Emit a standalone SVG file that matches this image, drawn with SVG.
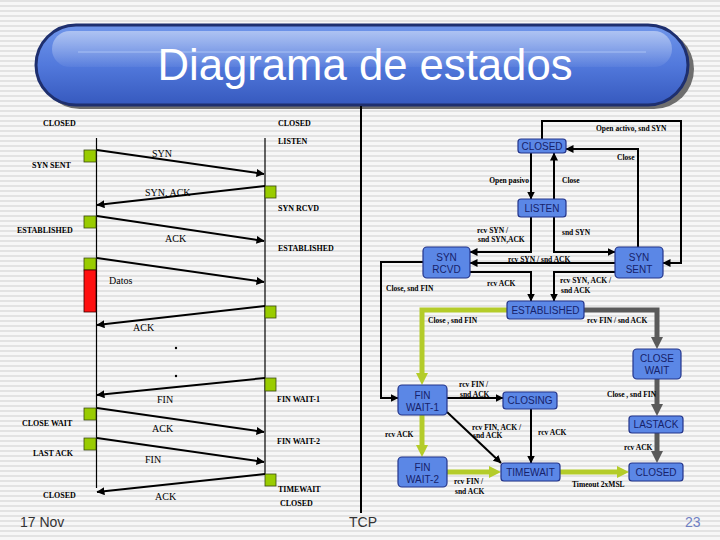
<svg xmlns="http://www.w3.org/2000/svg" width="720" height="540" viewBox="0 0 720 540">
<defs>
<pattern id="st" width="10" height="5" patternUnits="userSpaceOnUse"><rect width="10" height="5" fill="#f7f7f7"/><rect width="10" height="2" fill="#e3e3e3"/></pattern>
<linearGradient id="pill" x1="0" y1="0" x2="0" y2="1"><stop offset="0" stop-color="#7096ea"/><stop offset="0.5" stop-color="#5279dc"/><stop offset="1" stop-color="#3659be"/></linearGradient>
<linearGradient id="hl" x1="0" y1="0" x2="0" y2="1"><stop offset="0" stop-color="#ffffff" stop-opacity="0.45"/><stop offset="1" stop-color="#ffffff" stop-opacity="0.05"/></linearGradient>
<marker id="mb" viewBox="0 0 8 8" refX="7.5" refY="4" markerWidth="8" markerHeight="8" markerUnits="userSpaceOnUse" orient="auto"><path d="M0,0 L8,4 L0,8 z" fill="#000"/></marker>
<marker id="mg" viewBox="0 0 12 12" refX="2" refY="6" markerWidth="12" markerHeight="12" markerUnits="userSpaceOnUse" orient="auto"><path d="M0,0 L12,6 L0,12 z" fill="#b4cc2a"/></marker>
<marker id="mgr" viewBox="0 0 12 12" refX="2" refY="6" markerWidth="12" markerHeight="12" markerUnits="userSpaceOnUse" orient="auto"><path d="M0,0 L12,6 L0,12 z" fill="#5a5a5a"/></marker>
<style>
.box{fill:#5b87e6;stroke:#23348a;stroke-width:1.2}
.bt{font-family:"Liberation Sans",Arial,sans-serif;font-size:10px;fill:#16226a;text-anchor:middle}
.lb{font-family:"Liberation Serif","Times New Roman",serif;font-size:7.5px;font-weight:bold;fill:#000}
.sl{font-family:"Liberation Serif","Times New Roman",serif;font-size:8px;font-weight:bold;fill:#000}
.ml{font-family:"Liberation Serif","Times New Roman",serif;font-size:10px;fill:#000}
.cb{fill:none;stroke:#000;stroke-width:2;marker-end:url(#mb)}
.cg{fill:none;stroke:#b4cc2a;stroke-width:5;marker-end:url(#mg)}
.cgr{fill:none;stroke:#5a5a5a;stroke-width:5;marker-end:url(#mgr)}
.sq{fill:#99cc00;stroke:#3b4a10;stroke-width:0.8}
.tl{stroke:#000;stroke-width:1.2}
.ft{font-family:"Liberation Sans",Arial,sans-serif;font-size:14px;fill:#333}
.pg{fill:#6f80c4}
</style>
</defs>
<rect width="720" height="540" fill="url(#st)"/>

<g id="title">
<rect x="40" y="29" width="654" height="80" rx="40" fill="#6e6e6e"/>
<rect x="36" y="25" width="652" height="80" rx="40" fill="url(#pill)" stroke="#1e2f6e" stroke-width="3"/>
<rect x="52" y="31" width="620" height="36" rx="18" fill="url(#hl)"/>
<line x1="78" y1="52" x2="646" y2="52" stroke="#a9c1f4" stroke-width="1"/>
<text x="365" y="80" font-family="'Liberation Sans',Arial,sans-serif" font-size="45" fill="#fff" text-anchor="middle" textLength="415" lengthAdjust="spacingAndGlyphs">Diagrama de estados</text>
</g>

<line x1="361" y1="106" x2="361" y2="513" stroke="#000" stroke-width="2"/>

<g id="sequence">
<line class="tl" x1="96.5" y1="138" x2="96.5" y2="488"/>
<line class="tl" x1="265" y1="138" x2="265" y2="474"/>
<rect class="sq" x="84" y="150" width="12" height="12"/>
<rect class="sq" x="265" y="186" width="11" height="12"/>
<rect class="sq" x="84" y="216" width="12" height="12"/>
<rect class="sq" x="84" y="258" width="12" height="12"/>
<rect x="84" y="270" width="12" height="42" fill="#ff1010" stroke="#3a0000" stroke-width="0.8"/>
<rect class="sq" x="265" y="306" width="11" height="12"/>
<rect class="sq" x="265" y="378" width="11" height="13"/>
<rect class="sq" x="84" y="408" width="12" height="12"/>
<rect class="sq" x="84" y="438" width="12" height="12"/>
<rect class="sq" x="265" y="474" width="11" height="12"/>
<line class="cb" x1="97" y1="150" x2="264" y2="174"/>
<line class="cb" x1="265" y1="186" x2="97" y2="205"/>
<line class="cb" x1="97" y1="216" x2="264" y2="241"/>
<line class="cb" x1="97" y1="258" x2="264" y2="282"/>
<line class="cb" x1="265" y1="306" x2="97" y2="325"/>
<line class="cb" x1="265" y1="378" x2="97" y2="395"/>
<line class="cb" x1="97" y1="408" x2="264" y2="432"/>
<line class="cb" x1="97" y1="438" x2="264" y2="462"/>
<line class="cb" x1="265" y1="474" x2="97" y2="492"/>
<circle cx="176" cy="348" r="1.2" fill="#000"/>
<circle cx="176" cy="376" r="1.2" fill="#000"/>
<text class="sl" x="43" y="126">CLOSED</text>
<text class="sl" x="278" y="126">CLOSED</text>
<text class="sl" x="278" y="144">LISTEN</text>
<text class="sl" x="32" y="168">SYN SENT</text>
<text class="sl" x="278" y="211">SYN RCVD</text>
<text class="sl" x="17" y="233">ESTABLISHED</text>
<text class="sl" x="278" y="251">ESTABLISHED</text>
<text class="sl" x="277" y="402">FIN WAIT-1</text>
<text class="sl" x="22" y="426">CLOSE WAIT</text>
<text class="sl" x="277" y="444">FIN WAIT-2</text>
<text class="sl" x="33" y="456">LAST ACK</text>
<text class="sl" x="278" y="492">TIMEWAIT</text>
<text class="sl" x="280" y="506">CLOSED</text>
<text class="sl" x="43" y="498">CLOSED</text>
<text class="ml" x="152" y="157">SYN</text>
<text class="ml" x="145" y="196">SYN, ACK</text>
<text class="ml" x="165" y="242">ACK</text>
<text class="ml" x="109" y="284">Datos</text>
<text class="ml" x="133" y="331">ACK</text>
<text class="ml" x="157" y="403">FIN</text>
<text class="ml" x="152" y="432">ACK</text>
<text class="ml" x="145" y="463">FIN</text>
<text class="ml" x="155" y="500">ACK</text>
</g>

<g id="connectors">
<polyline class="cb" points="542,139 542,121 681,121 681,263 663,263"/>
<polyline class="cb" points="638,247 638,149 566,149"/>
<polyline class="cb" points="531,153 531,199"/>
<polyline class="cb" points="554,199 554,153"/>
<polyline class="cb" points="531,217 531,252 470,252"/>
<polyline class="cb" points="554,217 554,252 615,252"/>
<polyline class="cb" points="615,263 470,263"/>
<polyline class="cb" points="470,272 531,272 531,301"/>
<polyline class="cb" points="615,272 554,272 554,301"/>
<polyline class="cb" points="423,262 381,262 381,398 398,398"/>
<polyline class="cb" points="447,398 503,398"/>
<polyline class="cb" points="447,412 501,463"/>
<polyline class="cb" points="531,409 531,463"/>
<polyline class="cg" points="507,310 422,310 422,375"/>
<polyline class="cg" points="422,415 422,447"/>
<polyline class="cg" points="447,472 491,472"/>
<polyline class="cg" points="560,472 619,472"/>
<polyline class="cgr" points="584,310 657,310 657,339"/>
<polyline class="cgr" points="657,379 657,406"/>
<polyline class="cgr" points="657,433 657,453"/>
<text class="lb" x="596" y="131">Open activo, snd SYN</text>
<text class="lb" x="617" y="160">Close</text>
<text class="lb" x="529" y="183" text-anchor="end">Open pasivo</text>
<text class="lb" x="562" y="183">Close</text>
<text class="lb" x="477" y="233">rcv SYN /</text>
<text class="lb" x="478" y="242">snd SYN,ACK</text>
<text class="lb" x="562" y="235">snd SYN</text>
<text class="lb" x="508" y="262">rcv SYN / snd ACK</text>
<text class="lb" x="386" y="291">Close, snd FIN</text>
<text class="lb" x="487" y="286">rcv ACK</text>
<text class="lb" x="560" y="283">rcv SYN, ACK /</text>
<text class="lb" x="561" y="293">snd ACK</text>
<text class="lb" x="428" y="323">Close , snd FIN</text>
<text class="lb" x="587" y="323">rcv FIN / snd ACK</text>
<text class="lb" x="459" y="387">rcv FIN /</text>
<text class="lb" x="460" y="397">snd ACK</text>
<text class="lb" x="607" y="397">Close , snd FIN</text>
<text class="lb" x="472" y="430">rcv FIN, ACK /</text>
<text class="lb" x="473" y="438">snd ACK</text>
<text class="lb" x="538" y="435">rcv ACK</text>
<text class="lb" x="385" y="437">rcv ACK</text>
<text class="lb" x="624" y="450">rcv ACK</text>
<text class="lb" x="454" y="484">rcv FIN /</text>
<text class="lb" x="455" y="494">snd ACK</text>
<text class="lb" x="572" y="487">Timeout 2xMSL</text>
</g>

<g id="n-closed"><rect class="box" x="518" y="139" width="48" height="14" rx="3"/><text class="bt" x="542" y="150">CLOSED</text></g>
<g id="n-listen"><rect class="box" x="518" y="199" width="48" height="18" rx="3"/><text class="bt" x="542" y="212">LISTEN</text></g>
<g id="n-synrcvd"><rect class="box" x="423" y="247" width="47" height="31" rx="4"/><text class="bt" x="446.5" y="261">SYN</text><text class="bt" x="446.5" y="273">RCVD</text></g>
<g id="n-synsent"><rect class="box" x="615" y="247" width="48" height="31" rx="4"/><text class="bt" x="639" y="261">SYN</text><text class="bt" x="639" y="273">SENT</text></g>
<g id="n-established"><rect class="box" x="507" y="301" width="77" height="18" rx="3"/><text class="bt" x="545.5" y="314">ESTABLISHED</text></g>
<g id="n-closewait"><rect class="box" x="633" y="349" width="48" height="30" rx="4"/><text class="bt" x="657" y="362">CLOSE</text><text class="bt" x="657" y="374">WAIT</text></g>
<g id="n-finwait1"><rect class="box" x="398" y="385" width="49" height="30" rx="4"/><text class="bt" x="422.5" y="399">FIN</text><text class="bt" x="422.5" y="411">WAIT-1</text></g>
<g id="n-closing"><rect class="box" x="503" y="392" width="54" height="17" rx="3"/><text class="bt" x="530" y="404">CLOSING</text></g>
<g id="n-lastack"><rect class="box" x="629" y="416" width="54" height="17" rx="3"/><text class="bt" x="656" y="428">LASTACK</text></g>
<g id="n-finwait2"><rect class="box" x="398" y="457" width="49" height="30" rx="4"/><text class="bt" x="422.5" y="471">FIN</text><text class="bt" x="422.5" y="483">WAIT-2</text></g>
<g id="n-timewait"><rect class="box" x="501" y="463" width="59" height="18" rx="3"/><text class="bt" x="530.5" y="476">TIMEWAIT</text></g>
<g id="n-closed2"><rect class="box" x="629" y="463" width="54" height="18" rx="3"/><text class="bt" x="656" y="476">CLOSED</text></g>

<text class="ft" x="20" y="527">17 Nov</text>
<text class="ft" x="349" y="527">TCP</text>
<text class="ft pg" x="685" y="527">23</text>
</svg>
